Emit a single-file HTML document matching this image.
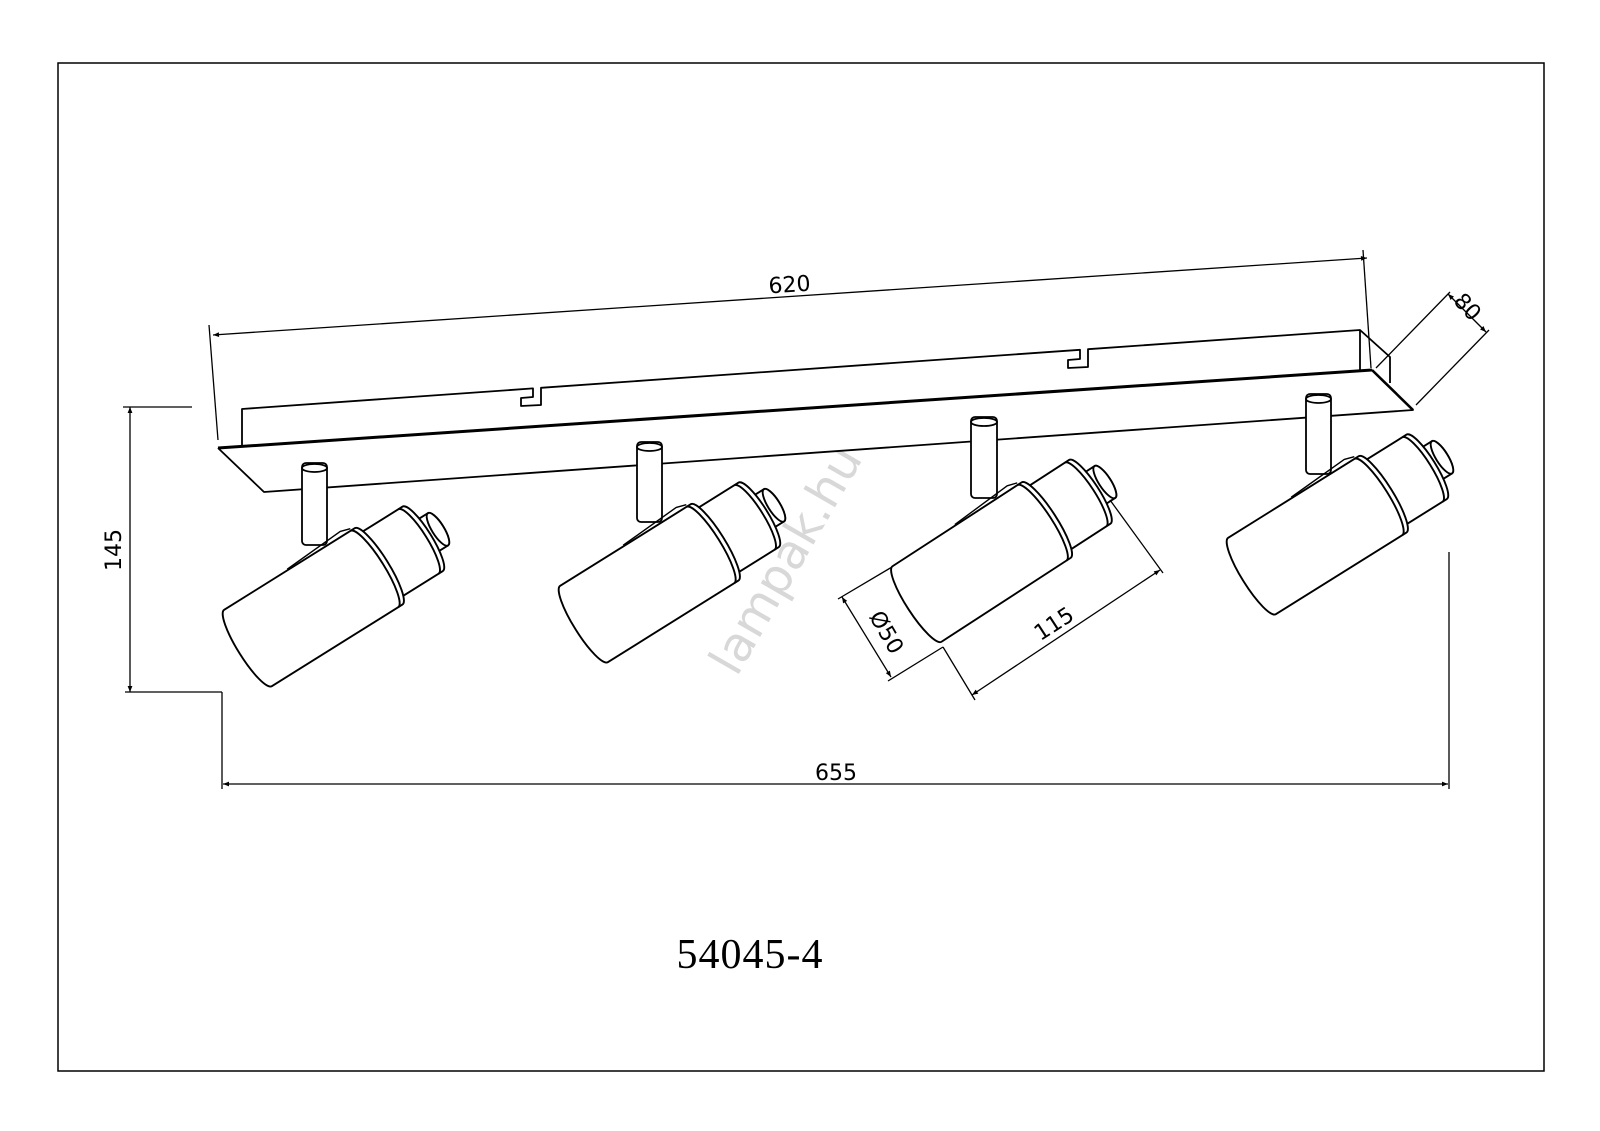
<!DOCTYPE html>
<html><head><meta charset="utf-8"><style>
html,body{margin:0;padding:0;background:#fff;}
svg{display:block;}
text{font-family:"DejaVu Sans","Liberation Sans",sans-serif;}
</style></head><body>
<svg width="1600" height="1131" viewBox="0 0 1600 1131" xmlns="http://www.w3.org/2000/svg">
<defs>
<marker id="ar" viewBox="0 0 10 10" refX="10" refY="5" markerWidth="10" markerHeight="6" orient="auto-start-reverse" markerUnits="userSpaceOnUse"><path d="M0,1 L10,5 L0,9 z" fill="#000"/></marker>
<g id="spot" fill="#fff" stroke="#000" stroke-width="1.9" stroke-linejoin="round">
  <path d="M206,-19 L224,-19 A6,19 0 0 1 224,19 L206,19 Z"/>
  <ellipse cx="224" cy="0" rx="6" ry="19"/>
  <path d="M152,-38 L206,-38 A9,38 0 0 1 206,38 L152,38 Z"/>
  <path d="M201,-38 A9,38 0 0 1 201,38" fill="none"/>
  <path d="M0,-45 L154,-45 A10,45 0 0 1 154,45 L0,45 A10,45 0 0 1 0,-45 Z"/>
  <path d="M149,-45 A10,45 0 0 1 149,45" fill="none"/>
  <path d="M75,-46 L140,-50 L150,-47" fill="none" stroke-width="1.4"/>
</g>
</defs>
<rect x="58" y="63" width="1486" height="1008" fill="none" stroke="#000" stroke-width="1.5"/>

<text x="800" y="568" font-size="48" fill="#d8d8d8" text-anchor="middle" transform="rotate(-60 800 568)">lampak.hu</text>

<!-- bar -->
<g fill="none" stroke="#000" stroke-width="1.8" stroke-linejoin="round">
  <path d="M242,445 L242,409 L533,388.4 L533,397 L521,398 L521,406 L541,405 L541,387.8 L1080,349.8 L1080,359 L1068,360 L1068,368 L1088,367 L1088,349.2 L1360,330 L1390,357 L1390,383"/>
  <path d="M1360,330 L1360,372"/>
  <path d="M218,448 L264,492 L1413,410 L1372,370" fill="#fff"/>
  <path d="M218,448 L1372,370" stroke-width="3"/>
  <path d="M1372,370 L1413,410" stroke-width="2.6"/>
</g>

<!-- stems -->
<g fill="#fff" stroke="#000" stroke-width="1.8">
  <rect x="302" y="463" width="25" height="82" rx="4"/><ellipse cx="314.5" cy="468" rx="12.5" ry="4"/>
  <rect x="637" y="442" width="25" height="80" rx="4"/><ellipse cx="649.5" cy="447" rx="12.5" ry="4"/>
  <rect x="971" y="417" width="26" height="81" rx="4"/><ellipse cx="984" cy="422" rx="13" ry="4"/>
  <rect x="1306" y="394" width="25" height="80" rx="4"/><ellipse cx="1318.5" cy="399" rx="12.5" ry="4"/>
</g>

<!-- spots -->
<use href="#spot" transform="translate(248,648) rotate(-32)"/>
<use href="#spot" transform="translate(584,624) rotate(-32)"/>
<use href="#spot" transform="translate(917,604) rotate(-33)"/>
<use href="#spot" transform="translate(1252,576) rotate(-32)"/>

<!-- dimensions -->
<g fill="none" stroke="#000" stroke-width="1.3">
  <line x1="209" y1="325" x2="218" y2="440"/>
  <line x1="1363" y1="250" x2="1371" y2="368"/>
  <line x1="213" y1="335" x2="1367" y2="258" marker-start="url(#ar)" marker-end="url(#ar)"/>
  <line x1="1376" y1="368" x2="1450" y2="292"/>
  <line x1="1416" y1="405" x2="1489" y2="330"/>
  <line x1="1448" y1="294" x2="1486" y2="332" marker-start="url(#ar)" marker-end="url(#ar)"/>
  <line x1="123" y1="407" x2="192" y2="407"/>
  <line x1="125" y1="692" x2="222" y2="692"/>
  <line x1="130" y1="407" x2="130" y2="692" marker-start="url(#ar)" marker-end="url(#ar)"/>
  <line x1="222" y1="692" x2="222" y2="789"/>
  <line x1="1449" y1="552" x2="1449" y2="789"/>
  <line x1="223" y1="784" x2="1448" y2="784" marker-start="url(#ar)" marker-end="url(#ar)"/>
  <line x1="892" y1="567" x2="838" y2="599"/>
  <line x1="943" y1="647" x2="888" y2="681"/>
  <line x1="842" y1="597" x2="891" y2="677" marker-start="url(#ar)" marker-end="url(#ar)"/>
  <line x1="943" y1="647" x2="975" y2="700"/>
  <line x1="1110" y1="500" x2="1163" y2="573"/>
  <line x1="972" y1="695" x2="1160" y2="570" marker-start="url(#ar)" marker-end="url(#ar)"/>
</g>
<g font-size="22" fill="#000">
  <text x="790" y="292" text-anchor="middle" transform="rotate(-3.8 790 292)">620</text>
  <text x="1462" y="312" text-anchor="middle" transform="rotate(47 1462 312)">80</text>
  <text x="121" y="550" text-anchor="middle" transform="rotate(-90 121 550)">145</text>
  <text x="836" y="780" text-anchor="middle">655</text>
  <text x="880" y="636" text-anchor="middle" transform="rotate(60 880 636)">Ø50</text>
  <text x="1058" y="630" text-anchor="middle" transform="rotate(-33 1058 630)">115</text>
</g>
<text x="750" y="968" font-size="42" text-anchor="middle" letter-spacing="1" style="font-family:'Liberation Serif',serif">54045-4</text>
</svg>
</body></html>
